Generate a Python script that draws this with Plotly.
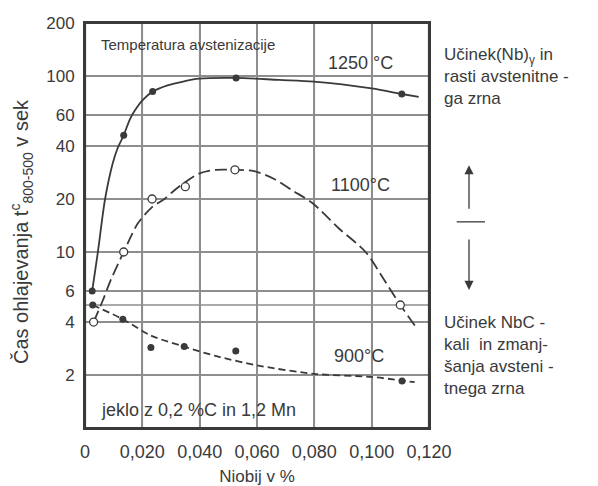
import math
import plotly.graph_objects as go

# ---- data ----
# 1250 °C (solid curve, filled markers)
x1250_curve = [0.0025, 0.0045, 0.0070, 0.0097, 0.0114, 0.0135, 0.0155, 0.0172, 0.0201, 0.0236,
               0.0288, 0.0346, 0.0398, 0.0527, 0.0677, 0.0799, 0.100, 0.1105, 0.1164]
y1250_curve = [6, 10, 20, 32, 39, 46, 56, 63, 73, 81.5, 88.5, 93.3, 96.5, 97.5, 95, 93, 85, 79, 76]
x1250_pts = [0.0025, 0.0135, 0.0236, 0.0527, 0.1105]
y1250_pts = [6, 46, 81.5, 97.5, 79]

# 1100 °C (long dashes, open markers)
x1100_curve = [0.003, 0.0062, 0.0091, 0.0135, 0.0184, 0.0234, 0.0277, 0.0306, 0.0346, 0.0398, 0.0457,
               0.0523, 0.059, 0.066, 0.0723, 0.0793, 0.0886, 0.0979, 0.104, 0.110, 0.1157]
y1100_curve = [4, 5.3, 7.0, 10, 14.5, 18, 20, 22, 24.7, 27.9, 29.3,
               29.3, 28.8, 26, 22.4, 19, 13.6, 10, 7.1, 5, 3.7]
x1100_pts = [0.003, 0.0135, 0.0234, 0.035, 0.0523, 0.110]
y1100_pts = [4, 10, 20, 23.5, 29.3, 5]

# 900 °C (short dashes, filled markers)
x900_curve = [0.0027, 0.0132, 0.023, 0.0346, 0.0462, 0.0613, 0.080, 0.100, 0.115]
y900_curve = [5, 4.15, 3.35, 2.9, 2.55, 2.25, 2.03, 1.95, 1.82]
x900_pts = [0.0027, 0.0132, 0.023, 0.0346, 0.0526, 0.1106]
y900_pts = [5, 4.15, 2.87, 2.9, 2.74, 1.85]

x_ticks = [0, 0.02, 0.04, 0.06, 0.08, 0.10, 0.12]
x_ticktext = ["0", "0,020", "0,040", "0,060", "0,080", "0,100", "0,120"]
y_ticks = [2, 4, 6, 10, 20, 40, 60, 100, 200]
y_ticktext = ["2", "4", "6", "10", "20", "40", "60", "100", "200"]
x_grid = [0.02, 0.04, 0.06, 0.08, 0.10]
y_grid = [2, 4, 5, 6, 10, 20, 40, 60, 100]
x_range = [0, 0.12]
y_range = [1, 200]

INK = "#3a3a3a"
GRID = "#8e8e8e"
FONT = "Liberation Sans, Arial, sans-serif"

fig = go.Figure()

# horizontal grid lines
hx, hy = [], []
for v in y_grid:
    hx += [x_range[0], x_range[1], None]
    hy += [v, v, None]
fig.add_trace(go.Scatter(x=hx, y=hy, mode="lines", line=dict(color=GRID, width=1.5),
                         showlegend=False, hoverinfo="skip"))
# vertical grid lines
vx, vy = [], []
for v in x_grid:
    vx += [v, v, None]
    vy += [y_range[0], y_range[1], None]
fig.add_trace(go.Scatter(x=vx, y=vy, mode="lines", line=dict(color=GRID, width=1.5),
                         showlegend=False, hoverinfo="skip"))

fig.add_trace(go.Scatter(x=x1250_curve, y=y1250_curve, mode="lines",
                         line=dict(color=INK, width=1.8, shape="spline", smoothing=0.8),
                         showlegend=False, hoverinfo="skip"))
fig.add_trace(go.Scatter(x=x1250_pts, y=y1250_pts, mode="markers",
                         marker=dict(color=INK, size=7), showlegend=False))

fig.add_trace(go.Scatter(x=x1100_curve, y=y1100_curve, mode="lines",
                         line=dict(color=INK, width=1.8, dash="12px,5px", shape="spline", smoothing=0.8),
                         showlegend=False, hoverinfo="skip"))
fig.add_trace(go.Scatter(x=x1100_pts, y=y1100_pts, mode="markers",
                         marker=dict(color="white", size=8, line=dict(color=INK, width=1.3)), showlegend=False))

fig.add_trace(go.Scatter(x=x900_curve, y=y900_curve, mode="lines",
                         line=dict(color=INK, width=1.8, dash="7px,4px", shape="spline", smoothing=0.8),
                         showlegend=False, hoverinfo="skip"))
fig.add_trace(go.Scatter(x=x900_pts, y=y900_pts, mode="markers",
                         marker=dict(color=INK, size=7), showlegend=False))

# page body has an 8px margin: shrink the figure by 8px so the plot lands where the reference has it
fig.update_layout(
    width=590, height=478,
    margin=dict(l=77, r=169, t=15, b=58, autoexpand=False),
    paper_bgcolor="white", plot_bgcolor="rgba(0,0,0,0)",
    font=dict(family=FONT, color=INK, size=15),
    xaxis=dict(range=x_range, tickmode="array", tickvals=x_ticks, ticktext=x_ticktext,
               showgrid=True, gridcolor=GRID, gridwidth=1.5,
               showline=True, linecolor=INK, linewidth=2, mirror=True,
               ticks="", zeroline=False,
               tickfont=dict(size=18), automargin=False, ticklabelstandoff=6,
               title=dict(text="Niobij v %", font=dict(size=17), standoff=22)),
    yaxis=dict(type="log", range=[math.log10(y_range[0]), math.log10(y_range[1])],
               tickmode="array", tickvals=y_ticks, ticktext=y_ticktext,
               showgrid=True, gridcolor=GRID, gridwidth=1.5,
               showline=True, linecolor=INK, linewidth=2, mirror=True,
               ticks="", zeroline=False,
               tickfont=dict(size=17), automargin=False, ticklabelstandoff=5),
)

# frame as a closed path shape
fig.add_shape(type="path", xref="paper", yref="paper",
              path="M 0,0 L 1,0 L 1,1 L 0,1 Z",
              line=dict(color=INK, width=2.2), fillcolor="rgba(0,0,0,0)", layer="above")

ann = [
    dict(x=0.042, y=0.948, xref="paper", yref="paper", text="Temperatura avstenizacije",
         showarrow=False, xanchor="left", yanchor="middle"),
    dict(x=0.80, y=0.901, xref="paper", yref="paper", text="1250 °C", font=dict(size=18),
         showarrow=False, xanchor="center", yanchor="middle"),
    dict(x=0.80, y=0.60, xref="paper", yref="paper", text="1100°C", font=dict(size=18),
         showarrow=False, xanchor="center", yanchor="middle"),
    dict(x=0.797, y=0.178, xref="paper", yref="paper", text="900°C", font=dict(size=18),
         showarrow=False, xanchor="center", yanchor="middle"),
    dict(x=0.042, y=0.044, xref="paper", yref="paper", text="jeklo z 0,2 %C in 1,2 Mn", font=dict(size=18),
         showarrow=False, xanchor="left", yanchor="middle"),
    dict(x=1.038, y=0.95, xref="paper", yref="paper",
         text="Učinek(Nb)<sub>γ</sub> in<br>rasti avstenitne -<br>ga zrna", font=dict(size=17),
         showarrow=False, xanchor="left", yanchor="top", align="left"),
    dict(x=1.038, y=0.29, xref="paper", yref="paper",
         text="Učinek NbC -<br>kali  in zmanj-<br>šanja avsteni -<br>tnega zrna", font=dict(size=17),
         showarrow=False, xanchor="left", yanchor="top", align="left"),
    dict(x=-0.183, y=0.484, xref="paper", yref="paper", textangle=-90,
         text="Čas ohlajevanja t<sup>c</sup><sub>800-500</sub> v sek", font=dict(size=20),
         showarrow=False, xanchor="center", yanchor="middle"),
    # arrows
    dict(x=1.1163, y=0.649, xref="paper", yref="paper", text="", showarrow=True,
         ax=0, ay=45, arrowhead=2, arrowsize=1.4, arrowwidth=1.3, arrowcolor=INK),
    dict(x=1.1163, y=0.341, xref="paper", yref="paper", text="", showarrow=True,
         ax=0, ay=-52, arrowhead=2, arrowsize=1.4, arrowwidth=1.3, arrowcolor=INK),
]
fig.update_layout(annotations=ann)
fig.add_shape(type="line", xref="paper", yref="paper", x0=1.0805, x1=1.1628, y0=0.509, y1=0.509,
              line=dict(color=INK, width=1.3))

fig.write_html("out.html")
